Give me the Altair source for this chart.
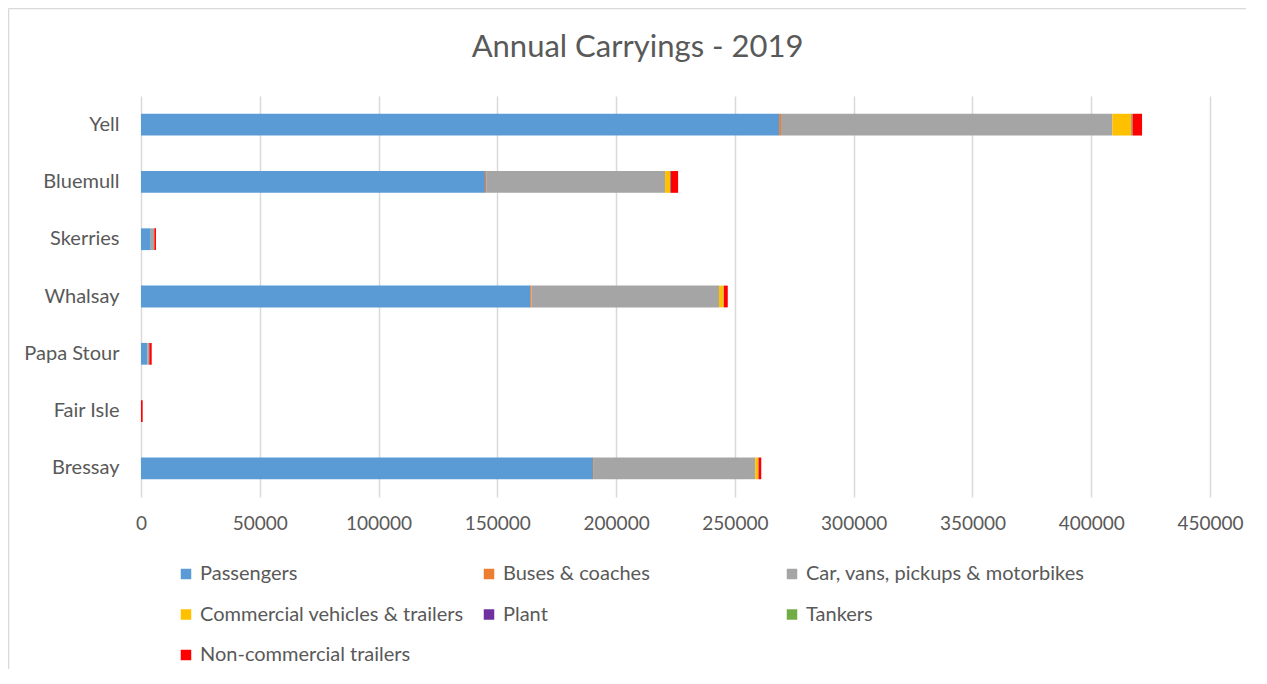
import altair as alt
import pandas as pd

routes = ["Yell", "Bluemull", "Skerries", "Whalsay", "Papa Stour", "Fair Isle", "Bressay"]
series = ["Passengers", "Buses & coaches", "Car, vans, pickups & motorbikes",
          "Commercial vehicles & trailers", "Plant", "Tankers", "Non-commercial trailers"]
colors = ["#5B9BD5", "#ED7D31", "#A5A5A5", "#FFC000", "#7030A0", "#70AD47", "#FF0000"]

passengers = [268600, 144800, 4100, 163800, 2700, 0, 190400]
buses = [800, 500, 0, 500, 0, 0, 300]
cars = [139500, 75300, 1400, 79000, 800, 0, 67900]
commercial = [8000, 2100, 100, 1900, 0, 0, 1200]
plant = [200, 300, 0, 100, 0, 0, 100]
tankers = [300, 100, 0, 100, 0, 0, 100]
noncommercial = [4000, 3000, 700, 1600, 1000, 700, 1100]

values = [passengers, buses, cars, commercial, plant, tankers, noncommercial]
rows = []
for si, (s, vals) in enumerate(zip(series, values)):
    for r, v in zip(routes, vals):
        rows.append({"route": r, "series": s, "value": v, "order": si})
df = pd.DataFrame(rows)

FONT = "Lato"
GREY = "#595959"
BORDER = "#D9D9D9"

bars = alt.Chart(df).mark_bar().encode(
    y=alt.Y("route:N", sort=routes, title=None,
            scale=alt.Scale(paddingInner=0.62, paddingOuter=0.31),
            axis=alt.Axis(labelFontSize=20, labelColor=GREY, labelFont=FONT,
                          ticks=False, domain=False, labelPadding=22, grid=False)),
    x=alt.X("value:Q", title=None,
            scale=alt.Scale(domain=[0, 450000], nice=False),
            axis=alt.Axis(values=list(range(0, 450001, 50000)), format="d",
                          labelFontSize=19, labelColor=GREY, labelFont=FONT,
                          labelFlush=False,
                          ticks=False, domain=False, labelPadding=17,
                          grid=True, gridColor="#D9D9D9", gridWidth=1.5)),
    color=alt.Color("series:N",
                    scale=alt.Scale(domain=series, range=colors),
                    legend=alt.Legend(title=None, orient="none", legendX=35, legendY=468,
                                      values=series, direction="horizontal",
                                      columns=3, gridAlign="all", columnPadding=0,
                                      rowPadding=20.5, symbolType="square", symbolSize=110,
                                      symbolStrokeWidth=0, labelFontSize=20, labelColor=GREY,
                                      labelFont=FONT, labelLimit=400, symbolOffset=0)),
    order=alt.Order("order:Q", sort="ascending"),
)

frame_src = pd.DataFrame({"k": [0]})
top_edge = alt.Chart(frame_src).mark_rule(color=BORDER, strokeWidth=1.5, clip=False).encode(
    x=alt.value(-132.5), x2=alt.value(1105), y=alt.value(-87.5))
left_edge = alt.Chart(frame_src).mark_rule(color=BORDER, strokeWidth=1.5, clip=False).encode(
    x=alt.value(-132.5), y=alt.value(-87.5), y2=alt.value(578))

chart = alt.layer(bars, top_edge, left_edge).properties(
    width=1069, height=401,
    title=alt.TitleParams("Annual Carryings - 2019", fontSize=31, font=FONT,
                          color=GREY, fontWeight="normal", anchor="middle",
                          offset=-56, dx=-38),
    autosize=alt.AutoSizeParams(type="none"),
    padding={"left": 133, "top": 88, "right": 45, "bottom": 172},
    background="white",
).configure_view(strokeWidth=0, stroke="transparent")

chart.save("out.html", embed_options={"renderer": "svg", "actions": False})
